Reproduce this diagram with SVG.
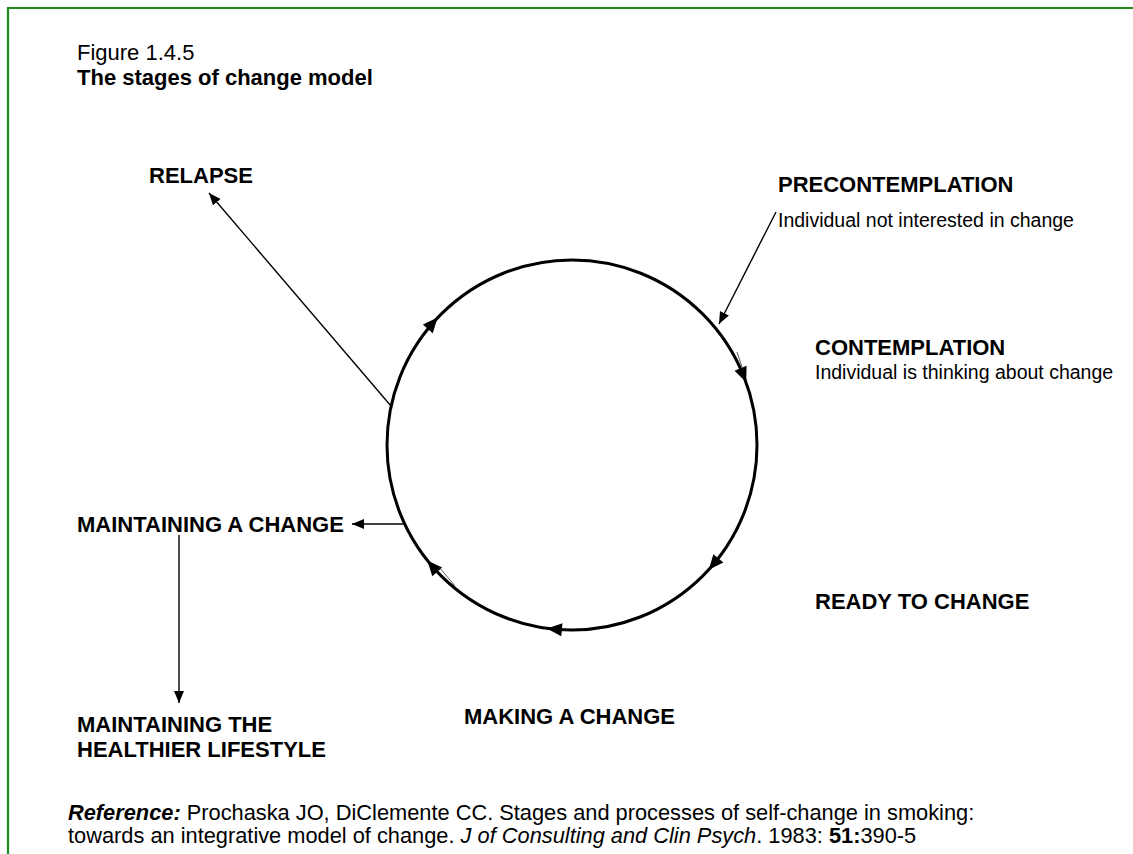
<svg xmlns="http://www.w3.org/2000/svg" xmlns:xlink="http://www.w3.org/1999/xlink" width="1133" height="854" viewBox="0 0 1133 854">
  <style>
    .frame { fill: none; stroke: #1f8a1f; stroke-width: 2.2; }
    .t { font-family: "Liberation Sans", Arial, sans-serif; fill: #000; }
    .lbl { font-size: 22px; font-weight: bold; }
    .title { font-size: 22px; }
    .desc { font-size: 19.5px; }
    .ref { font-size: 21.8px; }
    .cycle { fill: none; stroke: #000; stroke-width: 3; }
    .link { fill: none; stroke: #000; stroke-width: 1.4; }
    .hair { fill: none; stroke: #333; stroke-width: 0.8; }
  </style>
  <defs>
    <marker id="arr" markerUnits="userSpaceOnUse" markerWidth="14" markerHeight="12" refX="12" refY="5" orient="auto">
      <path d="M0,0 L12,5 L0,10 Z" fill="#000"/>
    </marker>
    <!-- direction mark on the cycle, centred on its anchor point, pointing +x -->
    <path id="cyc-head" d="M8,0 L-7,-6.5 L-7,6.5 Z" fill="#000"/>
  </defs>

  <rect width="1133" height="854" fill="#fff"/>

  <!-- page frame: top and left rules -->
  <path class="frame" d="M8,854 L8,8 L1133,8"/>

  <g id="caption">
    <text class="t title" x="77" y="60">Figure 1.4.5</text>
    <text class="t title" x="77" y="85" font-weight="bold">The stages of change model</text>
  </g>

  <!-- the cycle -->
  <g id="cycle">
    <circle class="cycle" cx="572" cy="445" r="185"/>
    <use xlink:href="#cyc-head" transform="translate(432.4,323.6) rotate(-49)"/>
    <use xlink:href="#cyc-head" transform="translate(743.2,374.8) rotate(67.7)"/>
    <use xlink:href="#cyc-head" transform="translate(713.9,563.7) rotate(129.9)"/>
    <use xlink:href="#cyc-head" transform="translate(554.9,629.2) rotate(185.3)"/>
    <use xlink:href="#cyc-head" transform="translate(432.6,566.6) rotate(228.9)"/>
    <path class="hair" d="M737,352 L742,367"/>
    <path class="hair" d="M439,567 L455,586"/>
  </g>

  <g id="connectors">
    <line class="link" x1="776" y1="212" x2="719" y2="324" marker-end="url(#arr)"/>
    <line class="link" x1="391" y1="406" x2="209" y2="193" marker-end="url(#arr)"/>
    <line class="link" x1="405" y1="524" x2="352" y2="524" stroke="#444" marker-end="url(#arr)"/>
    <line class="link" x1="179" y1="535" x2="179" y2="703" marker-end="url(#arr)"/>
  </g>

  <g id="precontemplation">
    <text class="t lbl" x="778" y="192">PRECONTEMPLATION</text>
    <text class="t desc" x="778" y="227">Individual not interested in change</text>
  </g>

  <g id="contemplation">
    <text class="t lbl" x="815" y="355">CONTEMPLATION</text>
    <text class="t desc" x="815" y="379">Individual is thinking about change</text>
  </g>

  <g id="ready">
    <text class="t lbl" x="815" y="609">READY TO CHANGE</text>
  </g>

  <g id="making">
    <text class="t lbl" x="464" y="724">MAKING A CHANGE</text>
  </g>

  <g id="maintaining">
    <text class="t lbl" x="77" y="532">MAINTAINING A CHANGE</text>
  </g>

  <g id="lifestyle">
    <text class="t lbl" x="77" y="732">MAINTAINING THE</text>
    <text class="t lbl" x="77" y="757">HEALTHIER LIFESTYLE</text>
  </g>

  <g id="relapse">
    <text class="t lbl" x="149" y="183">RELAPSE</text>
  </g>

  <g id="reference">
    <text class="t ref" x="68" y="820"><tspan font-weight="bold" font-style="italic">Reference:</tspan> Prochaska JO, DiClemente CC. Stages and processes of self-change in smoking:</text>
    <text class="t ref" x="68" y="843">towards an integrative model of change. <tspan font-style="italic">J of Consulting and Clin Psych</tspan>. 1983: <tspan font-weight="bold">51:</tspan>390-5</text>
  </g>
</svg>
